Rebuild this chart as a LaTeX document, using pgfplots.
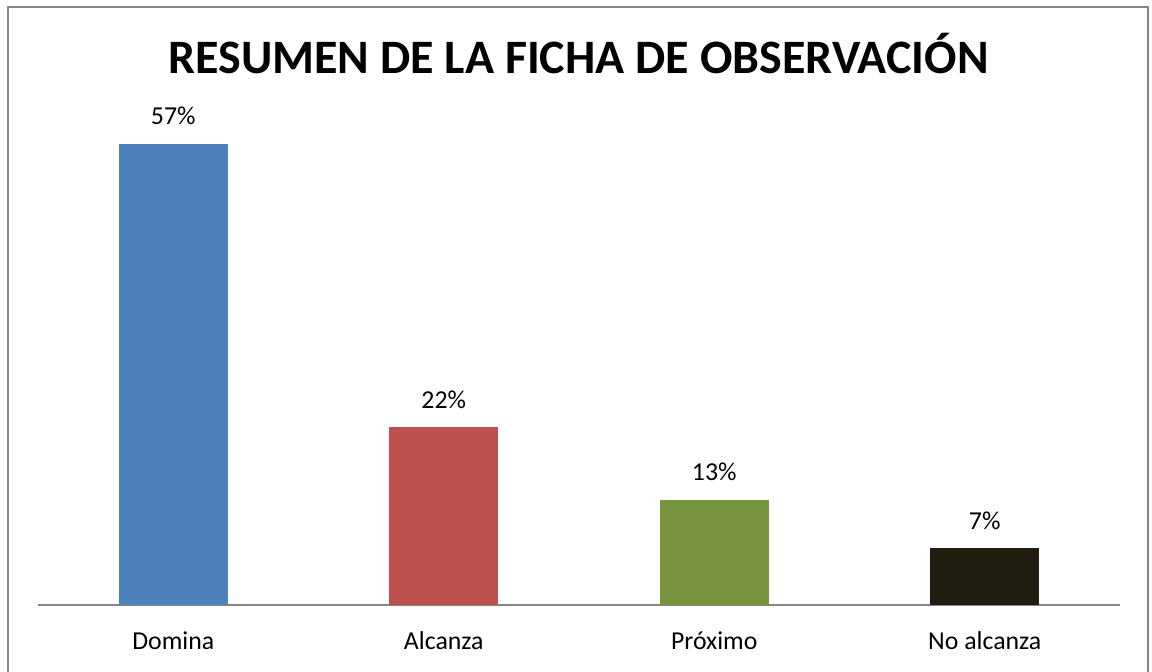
\documentclass[border=0pt]{standalone}
\usepackage{fontspec}
\setmainfont{Carlito}
\usepackage{pgfplots}
\pgfplotsset{compat=1.18}
\definecolor{cblue}{HTML}{4F81BD}
\definecolor{cred}{HTML}{C0504D}
\definecolor{cgreen}{HTML}{77933C}
\definecolor{cblack}{HTML}{201D10}
\definecolor{frame}{HTML}{868686}
\begin{document}
\begin{tikzpicture}
\useasboundingbox (0pt,0pt) rectangle (576pt,335.5pt);
\draw[color=frame, line width=1.2pt] (4pt,-5pt) rectangle (574pt,332pt);
\node[anchor=base, font=\bfseries\fontsize{24}{29}\selectfont, inner sep=0pt] at (289.25pt,298.5pt) {RESUMEN DE LA FICHA DE OBSERVACIÓN};
\begin{axis}[
  at={(19pt,33pt)}, anchor=south west,
  scale only axis, width=541pt, height=283.15pt,
  xmin=-0.5, xmax=3.5, ymin=0, ymax=70,
  axis x line*=bottom, axis y line=none,
  x axis line style={color=frame, line width=0.8pt, -},
  xtick={0,1,2,3},
  xticklabels={Domina,Alcanza,Próximo,No alcanza},
  major tick length=0pt,
  xticklabel style={anchor=base, yshift=-22pt, font=\fontsize{12.9}{15}\selectfont},
  ytick=\empty,
  /pgf/number format/assume math mode=true,
  ybar, bar width=54.5pt, bar shift=0pt,
  nodes near coords={\pgfmathprintnumber{\pgfplotspointmeta}\%},
  every node near coord/.append style={anchor=base, yshift=9.5pt, font=\fontsize{12.9}{15}\selectfont, color=black},
  clip=false,
]
\addplot[fill=cblue, draw=none] coordinates {(0,57)};
\addplot[fill=cred, draw=none] coordinates {(1,22)};
\addplot[fill=cgreen, draw=none] coordinates {(2,13)};
\addplot[fill=cblack, draw=none] coordinates {(3,7)};
\end{axis}
\end{tikzpicture}
\end{document}
